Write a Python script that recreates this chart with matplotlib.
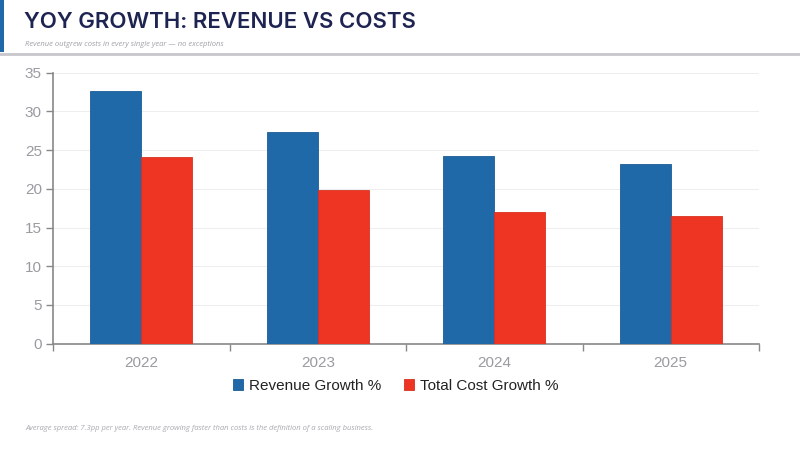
import matplotlib.pyplot as plt
import matplotlib.lines as mlines
import matplotlib.patches as mpatches
import numpy as np

# --- Data ---
years = ["2022", "2023", "2024", "2025"]
revenue_growth = [32.7, 27.4, 24.3, 23.2]
cost_growth = [24.1, 19.9, 17.0, 16.5]

C_REV = "#1F69A8"
C_COST = "#EE3524"
C_TITLE = "#1E2452"
C_TICK = "#9A9AA2"

plt.rcParams.update({
    "font.family": ["Liberation Sans", "DejaVu Sans"],
})

fig = plt.figure(figsize=(8, 4.5), dpi=100)
W, H = 800, 450


def fx(px):
    return px / W


def fy(py):
    return 1 - py / H


# Header accents
fig.add_artist(mpatches.Rectangle((0, fy(52)), fx(4), 52 / H, color=C_REV,
                                  transform=fig.transFigure, lw=0))
fig.add_artist(mlines.Line2D([0, 1], [fy(53.5), fy(53.5)], color="#C8C8CC",
                             lw=2, transform=fig.transFigure))
fig.text(fx(24), fy(22), "YOY GROWTH: REVENUE VS COSTS", fontsize=16,
         fontweight="semibold", color=C_TITLE, va="center", ha="left",
         family=["Inter", "DejaVu Sans"])
fig.text(fx(25), fy(44), "Revenue outgrew costs in every single year \u2014 no exceptions",
         fontsize=5.5, style="italic", color="#A0A0A8", va="center", ha="left",
         family=["Open Sans", "DejaVu Sans"])
fig.text(fx(25), fy(428),
         "Average spread: 7.3pp per year. Revenue growing faster than costs is the "
         "definition of a scaling business.",
         fontsize=5.5, style="italic", color="#A8A8B0", va="center", ha="left",
         family=["Open Sans", "DejaVu Sans"])

# Chart
ax = fig.add_axes([fx(53), fy(343.7), fx(759 - 53), (343.7 - 72.7) / H])
x = np.arange(len(years))
bw = 0.29
ax.bar(x - bw / 2, revenue_growth, bw, color=C_REV, label="Revenue Growth %",
       zorder=3, edgecolor="#1A5C95", linewidth=0.6)
ax.bar(x + bw / 2, cost_growth, bw, color=C_COST, label="Total Cost Growth %",
       zorder=3, edgecolor="#D8301F", linewidth=0.6)

ax.set_xlim(-0.5, len(years) - 0.5)
ax.set_ylim(0, 35)
ax.set_yticks(np.arange(0, 36, 5))
ax.yaxis.grid(True, color="#EEEEF0", linewidth=0.8, zorder=0)
ax.set_axisbelow(True)

ax.set_xticks(x)
ax.set_xticklabels(years)
ax.set_xticks(np.arange(-0.5, len(years)), minor=True)
ax.tick_params(axis="x", which="major", length=0, pad=9, labelsize=11,
               labelcolor=C_TICK)
ax.tick_params(axis="x", which="minor", length=5, color="#888888", width=1)
ax.tick_params(axis="y", length=5, color="#888888", width=1, labelsize=11,
               labelcolor=C_TICK, pad=3)

for s in ["top", "right"]:
    ax.spines[s].set_visible(False)
for s in ["left", "bottom"]:
    ax.spines[s].set_color("#888888")
    ax.spines[s].set_linewidth(1.2)

ax.legend(loc="upper center", bbox_to_anchor=(0.485, -0.08), ncol=2,
          frameon=False, fontsize=11, handlelength=0.7, handleheight=0.7,
          handletextpad=0.35, columnspacing=1.5, labelcolor="#222222")

fig.savefig("out.png", dpi=100, facecolor="white")
